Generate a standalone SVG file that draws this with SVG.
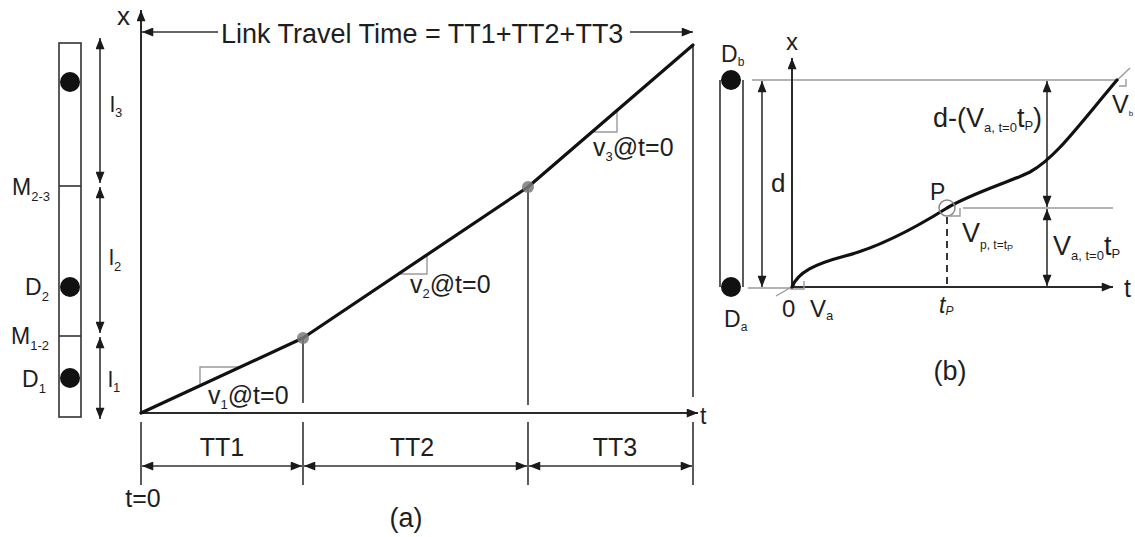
<svg xmlns="http://www.w3.org/2000/svg" width="1135" height="537" viewBox="0 0 1135 537">
<style>
text{font-family:"Liberation Sans",Arial,sans-serif;fill:#1e1e1e}
.ax{stroke:#2a2a2a;stroke-width:2;fill:none}
.thin{stroke:#333;stroke-width:1.6;fill:none}
.gray{stroke:#9a9a9a;stroke-width:1.4;fill:none}
.curve{stroke:#111;stroke-width:3.2;fill:none;stroke-linecap:round}
.dot{fill:#111}
.sub{font-size:13px}
</style>
<defs>
<marker id="ah" viewBox="0 0 10 8" refX="10" refY="4" markerWidth="12" markerHeight="9" markerUnits="userSpaceOnUse" orient="auto-start-reverse"><path d="M0,0 L10,4 L0,8 z" fill="#1a1a1a"/></marker>
</defs>
<rect width="1135" height="537" fill="#fff"/>

<g id="strip-a">
<rect x="59" y="43" width="22" height="374" class="thin"/>
<line x1="59" y1="186" x2="81" y2="186" class="thin"/>
<line x1="59" y1="336" x2="81" y2="336" class="thin"/>
<circle cx="70" cy="82" r="10" class="dot"/>
<circle cx="70" cy="287" r="10" class="dot"/>
<circle cx="70" cy="378" r="10" class="dot"/>
<text x="12" y="195" font-size="23">M<tspan class="sub" dy="6">2-3</tspan></text>
<text x="25" y="295" font-size="23">D<tspan class="sub" dy="6">2</tspan></text>
<text x="11" y="344" font-size="23">M<tspan class="sub" dy="6">1-2</tspan></text>
<text x="22" y="387" font-size="23">D<tspan class="sub" dy="6">1</tspan></text>
<text x="110" y="112" font-size="22">l<tspan class="sub" dy="5">3</tspan></text>
<text x="109" y="265" font-size="22">l<tspan class="sub" dy="6">2</tspan></text>
<text x="108" y="387" font-size="22">l<tspan class="sub" dy="5">1</tspan></text>
</g>

<g id="connectors">
<line x1="100" y1="38" x2="100" y2="183" class="thin" marker-start="url(#ah)" marker-end="url(#ah)"/>
<line x1="100" y1="187" x2="100" y2="333" class="thin" marker-start="url(#ah)" marker-end="url(#ah)"/>
<line x1="100" y1="337" x2="100" y2="419" class="thin" marker-start="url(#ah)" marker-end="url(#ah)"/>
<line x1="218" y1="32" x2="142" y2="32" class="thin" marker-end="url(#ah)"/>
<line x1="630" y1="32" x2="693" y2="32" class="thin" marker-end="url(#ah)"/>
<line x1="142" y1="466" x2="302" y2="466" class="thin" marker-start="url(#ah)" marker-end="url(#ah)"/>
<line x1="304" y1="466" x2="527" y2="466" class="thin" marker-start="url(#ah)" marker-end="url(#ah)"/>
<line x1="529" y1="466" x2="692" y2="466" class="thin" marker-start="url(#ah)" marker-end="url(#ah)"/>
<line x1="762" y1="81" x2="762" y2="287" class="thin" marker-start="url(#ah)" marker-end="url(#ah)"/>
<line x1="1047" y1="81" x2="1047" y2="207" class="thin" marker-start="url(#ah)" marker-end="url(#ah)"/>
<line x1="1047" y1="209" x2="1047" y2="286" class="thin" marker-start="url(#ah)" marker-end="url(#ah)"/>
</g>

<g id="chart-a">
<line x1="141" y1="413" x2="141" y2="10" class="ax" marker-end="url(#ah)"/>
<line x1="141" y1="413" x2="698" y2="413" class="ax" marker-end="url(#ah)"/>
<text x="117" y="25" font-size="26">x</text>
<text x="700" y="424" font-size="23">t</text>
<line x1="303" y1="338" x2="303" y2="403" class="thin"/>
<line x1="528" y1="187" x2="528" y2="405" class="thin"/>
<line x1="693" y1="45" x2="693" y2="397" class="thin"/>
<line x1="141" y1="422" x2="141" y2="485" class="thin"/>
<line x1="303" y1="422" x2="303" y2="485" class="thin"/>
<line x1="528" y1="422" x2="528" y2="485" class="thin"/>
<line x1="693" y1="422" x2="693" y2="485" class="thin"/>
<polyline points="200,384 200,367 238,367" class="gray" stroke="#777"/>
<polyline points="398,274 427,274 427,255" class="gray" stroke="#777"/>
<polyline points="592,132 617,132 617,111" class="gray" stroke="#777"/>
<polyline points="141,413 303,338 528,187 693,45" class="curve" stroke-linejoin="round"/>
<circle cx="303" cy="338" r="6" fill="#7a7a7a" fill-opacity="0.85"/>
<circle cx="528" cy="187" r="6" fill="#7a7a7a" fill-opacity="0.85"/>
<text x="221" y="43" font-size="27">Link Travel Time = TT1+TT2+TT3</text>
<text x="208" y="404" font-size="25">v<tspan font-size="13" dy="5">1</tspan><tspan dy="-5">@t=0</tspan></text>
<text x="410" y="293" font-size="25">v<tspan font-size="13" dy="5">2</tspan><tspan dy="-5">@t=0</tspan></text>
<text x="593" y="156" font-size="25">v<tspan font-size="13" dy="5">3</tspan><tspan dy="-5">@t=0</tspan></text>
<text x="222" y="456" font-size="25" text-anchor="middle">TT1</text>
<text x="412" y="456" font-size="25" text-anchor="middle">TT2</text>
<text x="615" y="456" font-size="25" text-anchor="middle">TT3</text>
<text x="143" y="507" font-size="25" text-anchor="middle">t=0</text>
<text x="406" y="527" font-size="27" text-anchor="middle">(a)</text>
</g>

<g id="strip-b">
<line x1="720" y1="80" x2="720" y2="287" class="thin"/>
<line x1="743" y1="80" x2="743" y2="287" class="thin"/>
<circle cx="731" cy="80" r="10" class="dot"/>
<circle cx="731" cy="287" r="10" class="dot"/>
<text x="721" y="62" font-size="23">D<tspan font-size="12" dy="4">b</tspan></text>
<text x="724" y="327" font-size="23">D<tspan font-size="12" dy="4">a</tspan></text>
<text x="771" y="192" font-size="26">d</text>
</g>

<g id="chart-b">
<line x1="752" y1="80" x2="1119" y2="80" class="gray"/>
<line x1="963" y1="208" x2="1113" y2="208" class="gray"/>
<line x1="748" y1="288" x2="790" y2="288" class="gray"/>
<line x1="792" y1="288" x2="792" y2="58" class="ax" marker-end="url(#ah)"/>
<line x1="792" y1="287" x2="1113" y2="287" class="ax" marker-end="url(#ah)"/>
<text x="786" y="50" font-size="24">x</text>
<text x="1124" y="297" font-size="25">t</text>
<line x1="776" y1="296" x2="795" y2="285" class="gray"/>
<polyline points="790,289 804,289 804,281" class="gray"/>
<line x1="1112" y1="85" x2="1130" y2="68" class="gray"/>
<polyline points="1119,86 1126,86 1126,79" class="gray"/>
<path d="M792,287 C798,272 815,264 845,256 C880,247 915,228 947,208 C975,192 1010,182 1030,172 C1055,158 1075,130 1117,80" class="curve"/>
<circle cx="947" cy="208" r="8" fill="none" stroke="#888" stroke-width="1.5"/>
<polyline points="949,216 960,216 960,208" class="gray"/>
<line x1="947" y1="217" x2="947" y2="287" stroke="#222" stroke-width="1.8" stroke-dasharray="7,5"/>
<text x="930" y="200" font-size="23">P</text>
<text x="782" y="317" font-size="24">0</text>
<text x="810" y="317" font-size="24">V<tspan font-size="13" dy="3">a</tspan></text>
<text x="939" y="313" font-size="23" font-style="italic">t<tspan font-size="12" dy="2">P</tspan></text>
<text x="962" y="242" font-size="27">V<tspan font-size="12" dy="7">p, t=t</tspan><tspan font-size="9" dy="2">P</tspan></text>
<text x="933" y="127" font-size="27">d-(V<tspan font-size="13" dy="5">a, t=0</tspan><tspan dy="-5">t</tspan><tspan font-size="13" dy="3">P</tspan><tspan dy="-3">)</tspan></text>
<text x="1053" y="255" font-size="27">V<tspan font-size="13" dy="5">a, t=0</tspan><tspan dy="-5">t</tspan><tspan font-size="13" dy="3">P</tspan></text>
<text x="1112" y="113" font-size="25">V<tspan font-size="8" dy="3">b</tspan></text>
<text x="950" y="380" font-size="27" text-anchor="middle">(b)</text>
</g>
</svg>
